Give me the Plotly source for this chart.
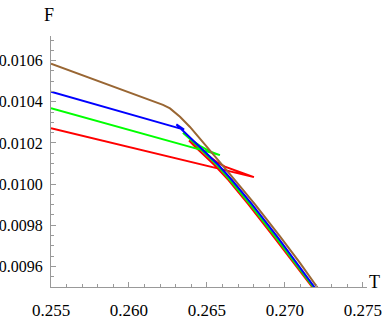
import plotly.graph_objects as go

# Free energy F vs temperature T, four curves
brown_T = [0.25500, 0.25814, 0.26135, 0.26179, 0.26218, 0.26263, 0.26327, 0.26391, 0.26455,
           0.26519, 0.26596, 0.26679, 0.26808, 0.26968, 0.27096, 0.27207, 0.27237]
brown_F = [0.010585, 0.010498, 0.010407, 0.010395, 0.010385, 0.010368, 0.010327, 0.010278, 0.010222,
           0.010166, 0.010095, 0.010020, 0.009902, 0.009746, 0.009617, 0.009499, 0.009463]

blue_T = [0.25500, 0.25942, 0.26353, 0.26327, 0.26304, 0.26353, 0.26474, 0.26574, 0.26660,
          0.26789, 0.26949, 0.27077, 0.27192, 0.27224]
blue_F = [0.010449, 0.010354, 0.010265, 0.010279, 0.010290, 0.010255, 0.010166, 0.010093, 0.010020,
          0.009902, 0.009746, 0.009617, 0.009499, 0.009463]

green_T = [0.25500, 0.26038, 0.26583, 0.26519, 0.26455, 0.26404, 0.26346, 0.26391, 0.26462,
           0.26558, 0.26647, 0.26776, 0.26936, 0.27067, 0.27186, 0.27218]
green_F = [0.010369, 0.010256, 0.010141, 0.010159, 0.010186, 0.010213, 0.010250, 0.010219, 0.010168,
           0.010098, 0.010020, 0.009902, 0.009746, 0.009617, 0.009499, 0.009463]

red_T = [0.25500, 0.26135, 0.26801, 0.26744, 0.26679, 0.26615, 0.26564, 0.26519, 0.26474, 0.26436,
         0.26385, 0.26423, 0.26474, 0.26548, 0.26638, 0.26766, 0.26926, 0.27058, 0.27178, 0.27212]
red_F = [0.010272, 0.010156, 0.010034, 0.010049, 0.010066, 0.010085, 0.010107, 0.010132, 0.010163, 0.010185,
         0.010212, 0.010183, 0.010146, 0.010093, 0.010020, 0.009902, 0.009746, 0.009617, 0.009499, 0.009463]

x_ticks = [0.255, 0.260, 0.265, 0.270, 0.275]
y_ticks = [0.0096, 0.0098, 0.0100, 0.0102, 0.0104, 0.0106]

series = [
    (red_T, red_F, "#FF0000"),
    (green_T, green_F, "#00FF00"),
    (blue_T, blue_F, "#0000FF"),
    (brown_T, brown_F, "#996633"),
]

fig = go.Figure()
for tx, fy, col in series:
    fig.add_trace(go.Scatter(x=tx, y=fy, mode="lines",
                             line=dict(color=col, width=2), showlegend=False,
                             hoverinfo="skip"))

serif = "Liberation Serif"
xfont = dict(family=serif, size=17, color="black")
yfont = dict(family=serif, size=16, color="black")
axcol = "#999999"

fig.update_layout(
    width=388, height=319,
    margin=dict(l=51, r=21, t=36, b=32, autoexpand=False),
    plot_bgcolor="white", paper_bgcolor="white",
    font=xfont,
    xaxis=dict(range=[0.255, 0.27526], showgrid=False, zeroline=False, automargin=False,
               showline=True, linecolor=axcol, linewidth=1,
               ticks="inside", ticklen=5, tickcolor=axcol, tickwidth=1,
               tickvals=x_ticks, ticktext=[f"{v:.3f}" for v in x_ticks],
               minor=dict(dtick=0.001, tick0=0.255, ticks="inside", ticklen=3,
                          tickcolor=axcol, showgrid=False),
               tickfont=xfont, ticklabelstandoff=8),
    yaxis=dict(range=[0.0095, 0.01072], showgrid=False, zeroline=False, automargin=False,
               showline=True, linecolor=axcol, linewidth=1,
               ticks="inside", ticklen=5, tickcolor=axcol, tickwidth=1,
               tickvals=y_ticks, ticktext=[f"{v:.4f}" for v in y_ticks],
               minor=dict(dtick=0.00005, tick0=0.0095, ticks="inside", ticklen=3,
                          tickcolor=axcol, showgrid=False),
               tickfont=yfont, ticklabelstandoff=4),
    annotations=[
        dict(text="F", xref="paper", yref="paper", x=-0.006, y=1.084,
             showarrow=False, font=dict(family=serif, size=18, color="black"),
             xanchor="center", yanchor="middle"),
        dict(text="T", xref="paper", yref="paper", x=1.025, y=0.02,
             showarrow=False, font=dict(family=serif, size=18, color="black"),
             xanchor="center", yanchor="middle"),
    ],
)

fig.write_html("out.html", config={"displayModeBar": False},
               post_script="document.body.style.margin='0';document.body.style.overflow='hidden';")
